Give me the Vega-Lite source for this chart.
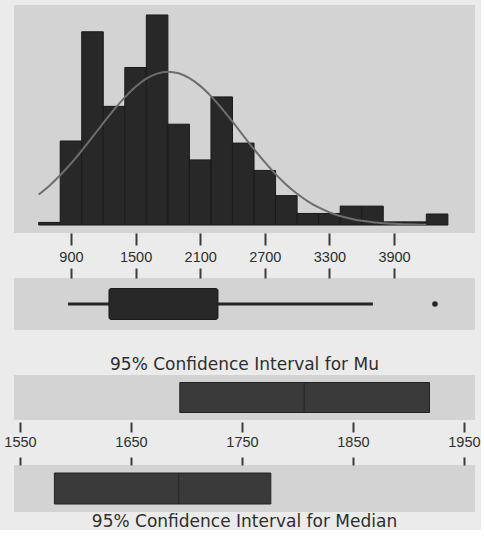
{
  "$schema": "https://vega.github.io/schema/vega-lite/v6.json",
  "background": "#ebebeb",
  "padding": {"left": 3, "top": 5, "right": 0, "bottom": 0},
  "config": {
    "view": {"fill": "#d3d3d3", "stroke": null},
    "axis": {
      "domain": false, "grid": false, "tickColor": "#3a3a3a", "tickWidth": 2,
      "labelFont": "Liberation Sans", "labelFontSize": 14.5, "labelColor": "#2e2e2e",
      "title": null, "labelFlush": false, "labelOverlap": false, "format": "d"
    },
    "title": {"font": "DejaVu Sans", "fontSize": 17, "fontWeight": "normal", "color": "#2e2e2e", "anchor": "middle"}
  },
  "datasets": {
    "hist": [
      {"bin_start": 600, "bin_end": 800, "count": 0.25},
      {"bin_start": 800, "bin_end": 1000, "count": 8},
      {"bin_start": 1000, "bin_end": 1200, "count": 18.4},
      {"bin_start": 1200, "bin_end": 1400, "count": 11.3},
      {"bin_start": 1400, "bin_end": 1600, "count": 15},
      {"bin_start": 1600, "bin_end": 1800, "count": 20},
      {"bin_start": 1800, "bin_end": 2000, "count": 9.6},
      {"bin_start": 2000, "bin_end": 2200, "count": 6.2},
      {"bin_start": 2200, "bin_end": 2400, "count": 12.2},
      {"bin_start": 2400, "bin_end": 2600, "count": 7.8},
      {"bin_start": 2600, "bin_end": 2800, "count": 5.2},
      {"bin_start": 2800, "bin_end": 3000, "count": 2.8},
      {"bin_start": 3000, "bin_end": 3200, "count": 1.1},
      {"bin_start": 3200, "bin_end": 3400, "count": 1.1},
      {"bin_start": 3400, "bin_end": 3600, "count": 1.8},
      {"bin_start": 3600, "bin_end": 3800, "count": 1.8},
      {"bin_start": 3800, "bin_end": 4000, "count": 0.3},
      {"bin_start": 4000, "bin_end": 4200, "count": 0.3},
      {"bin_start": 4200, "bin_end": 4400, "count": 1.05}
    ],
    "curve": [
      {"value": 600, "density": 2.9}, {"value": 700, "density": 3.75}, {"value": 800, "density": 4.74},
      {"value": 900, "density": 5.86}, {"value": 1000, "density": 7.09}, {"value": 1100, "density": 8.39},
      {"value": 1200, "density": 9.71}, {"value": 1300, "density": 10.99}, {"value": 1400, "density": 12.16},
      {"value": 1500, "density": 13.16}, {"value": 1600, "density": 13.93}, {"value": 1700, "density": 14.42},
      {"value": 1800, "density": 14.6}, {"value": 1900, "density": 14.45}, {"value": 2000, "density": 13.99},
      {"value": 2100, "density": 13.25}, {"value": 2200, "density": 12.27}, {"value": 2300, "density": 11.11},
      {"value": 2400, "density": 9.84}, {"value": 2500, "density": 8.52}, {"value": 2600, "density": 7.22},
      {"value": 2700, "density": 5.98}, {"value": 2800, "density": 4.85}, {"value": 2900, "density": 3.84},
      {"value": 3000, "density": 2.98}, {"value": 3100, "density": 2.26}, {"value": 3200, "density": 1.67},
      {"value": 3300, "density": 1.21}, {"value": 3400, "density": 0.86}, {"value": 3500, "density": 0.6},
      {"value": 3600, "density": 0.4}, {"value": 3700, "density": 0.27}, {"value": 3800, "density": 0.17},
      {"value": 3900, "density": 0.11}, {"value": 4000, "density": 0.07}, {"value": 4100, "density": 0.04},
      {"value": 4200, "density": 0.02}
    ],
    "box": [
      {"group": "Data", "whisker_lo": 872, "q1": 1253, "q3": 2265, "whisker_hi": 3704}
    ],
    "outliers": [
      {"group": "Data", "value": 4280}
    ],
    "ci_mu": [
      {"group": "Mu", "lo": 1694, "est": 1806, "hi": 1919}
    ],
    "ci_median": [
      {"group": "Median", "lo": 1581, "est": 1693, "hi": 1776}
    ]
  },
  "bounds": "flush",
  "spacing": 45,
  "vconcat": [
    {
      "width": 461,
      "height": 228,
      "layer": [
        {
          "data": {"name": "hist"},
          "mark": {"type": "bar", "fill": "#282828", "stroke": "#1a1a1a", "strokeWidth": 1},
          "encoding": {
            "x": {"field": "bin_start", "type": "quantitative",
                  "scale": {"domain": [371, 4652], "nice": false, "zero": false},
                  "axis": {"orient": "bottom", "values": [900, 1500, 2100, 2700, 3300, 3900], "tickSize": 12, "labelPadding": 5, "offset": 0}},
            "x2": {"field": "bin_end"},
            "y": {"field": "count", "type": "quantitative",
                  "scale": {"domain": [-0.76, 20.95], "nice": false, "zero": false}, "axis": null},
            "y2": {"datum": 0}
          }
        },
        {
          "data": {"name": "curve"},
          "mark": {"type": "line", "color": "#6e6e6e", "strokeWidth": 2, "interpolate": "monotone"},
          "encoding": {
            "x": {"field": "value", "type": "quantitative"},
            "y": {"field": "density", "type": "quantitative"}
          }
        }
      ]
    },
    {
      "width": 461,
      "height": 52,
      "layer": [
        {
          "data": {"name": "box"},
          "mark": {"type": "rule", "color": "#262626", "strokeWidth": 3},
          "encoding": {
            "x": {"field": "whisker_lo", "type": "quantitative",
                  "scale": {"domain": [371, 4652], "nice": false, "zero": false},
                  "axis": {"orient": "top", "values": [900, 1500, 2100, 2700, 3300, 3900], "tickSize": 10, "labels": false}},
            "x2": {"field": "whisker_hi"},
            "y": {"field": "group", "type": "nominal", "axis": null}
          }
        },
        {
          "data": {"name": "box"},
          "mark": {"type": "bar", "fill": "#282828", "stroke": "#1a1a1a", "strokeWidth": 1, "size": 31, "cornerRadius": 2},
          "encoding": {
            "x": {"field": "q1", "type": "quantitative"},
            "x2": {"field": "q3"},
            "y": {"field": "group", "type": "nominal", "axis": null}
          }
        },
        {
          "data": {"name": "outliers"},
          "mark": {"type": "circle", "color": "#262626", "opacity": 1, "size": 30},
          "encoding": {
            "x": {"field": "value", "type": "quantitative"},
            "y": {"field": "group", "type": "nominal", "axis": null}
          }
        }
      ]
    },
    {
      "width": 461,
      "height": 45,
      "title": {"text": "95% Confidence Interval for Mu", "orient": "top", "offset": 1},
      "layer": [
        {
          "data": {"name": "ci_mu"},
          "mark": {"type": "bar", "fill": "#3a3a3a", "stroke": "#222222", "strokeWidth": 1, "size": 30},
          "encoding": {
            "x": {"field": "lo", "type": "quantitative",
                  "scale": {"domain": [1544.6, 1960], "nice": false, "zero": false},
                  "axis": {"orient": "bottom", "values": [1550, 1650, 1750, 1850, 1950], "tickSize": 10, "offset": 2, "labelPadding": 3}},
            "x2": {"field": "hi"},
            "y": {"field": "group", "type": "nominal", "axis": null}
          }
        },
        {
          "data": {"name": "ci_mu"},
          "mark": {"type": "tick", "color": "#1e1e1e", "thickness": 1, "size": 30, "orient": "vertical"},
          "encoding": {
            "x": {"field": "est", "type": "quantitative"},
            "y": {"field": "group", "type": "nominal", "axis": null}
          }
        }
      ]
    },
    {
      "width": 461,
      "height": 47,
      "title": {"text": "95% Confidence Interval for Median", "orient": "bottom", "offset": 2},
      "layer": [
        {
          "data": {"name": "ci_median"},
          "mark": {"type": "bar", "fill": "#3a3a3a", "stroke": "#222222", "strokeWidth": 1, "size": 31},
          "encoding": {
            "x": {"field": "lo", "type": "quantitative",
                  "scale": {"domain": [1544.6, 1960], "nice": false, "zero": false},
                  "axis": {"orient": "top", "values": [1550, 1650, 1750, 1850, 1950], "tickSize": 8, "labels": false}},
            "x2": {"field": "hi"},
            "y": {"field": "group", "type": "nominal", "axis": null}
          }
        },
        {
          "data": {"name": "ci_median"},
          "mark": {"type": "tick", "color": "#1e1e1e", "thickness": 1, "size": 31, "orient": "vertical"},
          "encoding": {
            "x": {"field": "est", "type": "quantitative"},
            "y": {"field": "group", "type": "nominal", "axis": null}
          }
        }
      ]
    }
  ]
}
